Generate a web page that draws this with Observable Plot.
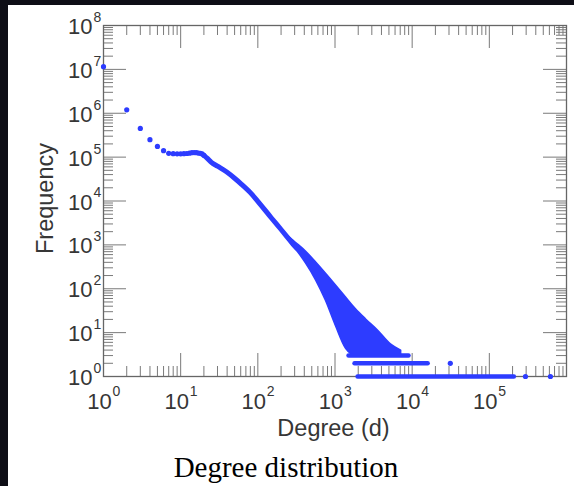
<!DOCTYPE html>
<html><head><meta charset="utf-8">
<script src="https://cdn.jsdelivr.net/npm/d3@7"></script>
<script src="https://cdn.jsdelivr.net/npm/@observablehq/plot@0.6"></script>
<style>
html,body{margin:0;padding:0;}
body{width:574px;height:486px;background:#0e0e16;position:relative;overflow:hidden;}
#panel{position:absolute;left:8px;top:5px;width:566px;height:481px;background:#fff;}
#chart{position:absolute;left:0;top:0;}
#caption{position:absolute;left:278px;top:445px;transform:translateX(-50%);font-family:"Liberation Serif","Times New Roman",serif;font-size:29px;line-height:34px;color:#000;white-space:nowrap;}
</style></head><body>
<div id="panel"><div id="chart"></div><div id="caption">Degree distribution</div></div>
<script>
// ---- data ----
const headDegree = [1,2,3,4,5,6,7,8,9,10,11,12,13,14,15,16,17,18,19,20];
const headFreq = [1.15e7,1.2e6,4.5e5,2.5e5,1.75e5,1.4e5,1.22e5,1.2e5,1.19e5,1.19e5,1.2e5,1.21e5,1.23e5,1.26e5,1.27e5,1.26e5,1.24e5,1.22e5,1.18e5,1.1e5];

const curveDegree = [20,22,25,30,40,50,60,80,100,150,200,250,300,330];
const curveFreq = [1.1e5,9.5e4,7.6e4,6.2e4,4.5e4,3.3e4,2.5e4,1.55e4,9.8e3,4.1e3,2.24e3,1.39e3,940,800];

const bandDegree = [250,320,420,570,760,1030,1390,1870,2530,3600,5300,7200];
const bandUpper  = [1550,1075,706,396,223,119,63,34,20,11.2,5.4,3.9];
const bandLower  = [1250,745,377,154,54,14,4.3,3,3,3,3,3];

const rowFreq  = [3,2,1];
const rowStart = [1520,1818,1990];
const rowEnd   = [9100,16100,211000];

const outlierDegree = [31200,294000,619000];
const outlierFreq   = [2,1,1];

const xTickValues = [1,10,100,1000,10000,100000];
const xTickExps   = ["0","1","2","3","4","5"];
const yTickValues = [1,10,100,1000,1e4,1e5,1e6,1e7,1e8];
const yTickExps   = ["0","1","2","3","4","5","6","7","8"];
const xMajorInner = [10,100,1000,1e4,1e5];
const yMajorInner = [10,100,1000,1e4,1e5,1e6,1e7];
const minorMult   = [2,3,4,5,6,7,8,9];
const xDecades    = [1,10,100,1000,1e4,1e5];
const yDecades    = [1,10,100,1000,1e4,1e5,1e6,1e7];

// ---- tables ----
const heads = headDegree.map((d,i)=>({d, f: headFreq[i]}));
const curve = curveDegree.map((d,i)=>({d, f: curveFreq[i]}));
const band = bandDegree.map((d,i)=>({d, upper: bandUpper[i], lower: bandLower[i]}));
const rows = rowFreq.map((f,i)=>({f, start: rowStart[i], end: rowEnd[i]}));
const outliers = outlierDegree.map((d,i)=>({d, f: outlierFreq[i]}));
const xMinor = xDecades.flatMap(d=>minorMult.map(m=>m*d));
const yMinor = yDecades.flatMap(d=>minorMult.map(m=>m*d));

const W = 566, H = 440, ML = 95, MR = 8, MT = 20, MB = 69;
const FW = W-ML-MR, FH = H-MT-MB;
const majorLen = 23, minorLen = 10;
const blue = "#2d3cff";
const tickColor = "#7a7a7a";
const textColor = "#363636";
const sans = "'Liberation Sans', Arial, Helvetica, sans-serif";

const chart = Plot.plot({
  width: W, height: H,
  marginLeft: ML, marginRight: MR, marginTop: MT, marginBottom: MB,
  style: {background: "transparent", fontFamily: sans, overflow: "visible"},
  x: {type: "log", domain: [1, 1e6], axis: null},
  y: {type: "log", domain: [1, 1e8], axis: null},
  marks: [
    // inward ticks, four sides
    Plot.ruleX(xMajorInner, {x: d=>d, insetTop: FH-majorLen, stroke: tickColor}),
    Plot.ruleX(xMajorInner, {x: d=>d, insetBottom: FH-majorLen, stroke: tickColor}),
    Plot.ruleX(xMinor, {x: d=>d, insetTop: FH-minorLen, stroke: tickColor}),
    Plot.ruleX(xMinor, {x: d=>d, insetBottom: FH-minorLen, stroke: tickColor}),
    Plot.ruleY(yMajorInner, {y: d=>d, insetRight: FW-majorLen, stroke: tickColor}),
    Plot.ruleY(yMajorInner, {y: d=>d, insetLeft: FW-majorLen, stroke: tickColor}),
    Plot.ruleY(yMinor, {y: d=>d, insetRight: FW-minorLen, stroke: tickColor}),
    Plot.ruleY(yMinor, {y: d=>d, insetLeft: FW-minorLen, stroke: tickColor}),
    Plot.frame({stroke: "#666", strokeWidth: 1.3}),
    // data
    Plot.areaY(band, {x: "d", y1: "lower", y2: "upper", fill: blue, stroke: blue, strokeWidth: 1.5, curve: "monotone-x"}),
    Plot.line(curve, {x: "d", y: "f", stroke: blue, strokeWidth: 5, strokeLinecap: "round", strokeLinejoin: "round", curve: "monotone-x"}),
    Plot.dot(heads, {x: "d", y: "f", r: 2.6, fill: blue}),
    Plot.ruleY(rows, {y: "f", x1: "start", x2: "end", stroke: blue, strokeWidth: 4.5, strokeLinecap: "round"}),
    Plot.dot(outliers, {x: "d", y: "f", r: 2.6, fill: blue}),
    // tick labels
    Plot.text(yTickValues, {y: d=>d, text: ()=>"10", frameAnchor: "left", textAnchor: "end", lineAnchor: "middle", dx: -11, dy: 1.5, fontSize: 22, fill: textColor}),
    Plot.text(yTickValues, {y: d=>d, text: (d,i)=>yTickExps[i], frameAnchor: "left", textAnchor: "start", lineAnchor: "middle", dx: -10, dy: -8, fontSize: 14, fill: textColor}),
    Plot.text(xTickValues, {x: d=>d, text: ()=>"10", frameAnchor: "bottom", textAnchor: "middle", lineAnchor: "middle", dx: -4, dy: 25, fontSize: 22, fill: textColor}),
    Plot.text(xTickValues, {x: d=>d, text: (d,i)=>xTickExps[i], frameAnchor: "bottom", textAnchor: "start", lineAnchor: "middle", dx: 9, dy: 15, fontSize: 14, fill: textColor}),
    // axis titles
    Plot.text(["Frequency"], {text: d=>d, frameAnchor: "left", rotate: -90, lineAnchor: "middle", textAnchor: "middle", dx: -58, dy: -2.5, fontSize: 23.5, fill: textColor}),
    Plot.text(["Degree (d)"], {text: d=>d, frameAnchor: "bottom", lineAnchor: "middle", textAnchor: "middle", dx: -1.5, dy: 52, fontSize: 23.5, fill: textColor})
  ]
});
document.getElementById("chart").appendChild(chart);
</script>
</body></html>
